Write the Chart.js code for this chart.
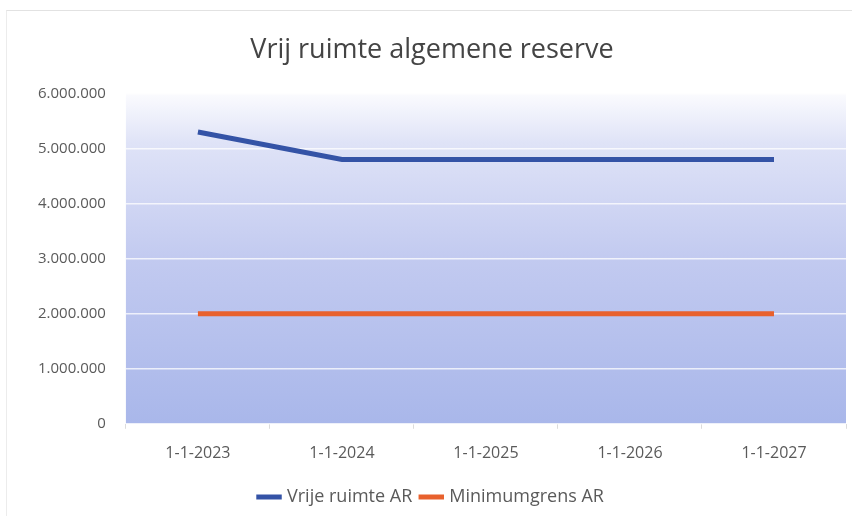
<!DOCTYPE html>
<html lang="nl">
<head>
<meta charset="UTF-8">
<title>Vrij ruimte algemene reserve</title>
<script src="https://cdn.jsdelivr.net/npm/chart.js"></script>
<style>
    html, body { margin: 0; padding: 0; background: #ffffff; }
    #wrap {
        position: absolute; left: 6px; top: 10px; width: 846px; height: 506px;
        border-top: 1px solid #e2e2e2; border-left: 1px solid #ececec;
        box-sizing: border-box;
    }
</style>
</head>
<body>
<div id="wrap"><canvas id="chart"></canvas></div>
<script>
    const categories = ['1-1-2023', '1-1-2024', '1-1-2025', '1-1-2026', '1-1-2027'];
    const vrijeRuimte = [5300000, 4800000, 4800000, 4800000, 4800000];
    const minimumgrens = [2000000, 2000000, 2000000, 2000000, 2000000];

    const fmt = v => v.toString().replace(/\B(?=(\d{3})+(?!\d))/g, '.');

    // gradient background of the plot area
    const plotBg = {
        id: 'plotBg',
        beforeDraw(chart) {
            const a = chart.chartArea;
            const ctx = chart.ctx;
            const g = ctx.createLinearGradient(0, a.top, 0, a.bottom);
            g.addColorStop(0, '#fbfbfe');
            g.addColorStop(0.15, '#dfe3f7');
            g.addColorStop(0.5, '#c2caf0');
            g.addColorStop(1, '#a9b7ea');
            ctx.save();
            ctx.fillStyle = g;
            ctx.fillRect(a.left, a.top, a.right - a.left, a.bottom - a.top);
            ctx.restore();
        }
    };

    new Chart(document.getElementById('chart'), {
        type: 'line',
        data: {
            labels: categories,
            datasets: [{
                label: 'Vrije ruimte AR',
                data: vrijeRuimte,
                borderColor: '#3453a6',
                backgroundColor: '#3453a6',
                borderWidth: 5,
                pointRadius: 0,
                tension: 0
            }, {
                label: 'Minimumgrens AR',
                data: minimumgrens,
                borderColor: '#e8612d',
                backgroundColor: '#e8612d',
                borderWidth: 5,
                pointRadius: 0,
                tension: 0
            }]
        },
        options: {
            responsive: true,
            maintainAspectRatio: false,
            animation: false,
            layout: { padding: { left: 11, right: 6, top: 4, bottom: 0 } },
            plugins: {
                title: {
                    display: true,
                    text: 'Vrij ruimte algemene reserve',
                    color: '#444444',
                    font: { family: 'Open Sans', size: 27, weight: 'normal' },
                    padding: { top: 19, bottom: 27 }
                },
                legend: {
                    position: 'bottom',
                    labels: {
                        usePointStyle: true,
                        pointStyle: 'line',
                        boxWidth: 48,
                        color: '#5a5a5a',
                        font: { family: 'Open Sans', size: 18 },
                        padding: 10
                    }
                },
                tooltip: { enabled: false }
            },
            scales: {
                x: {
                    offset: true,
                    grid: { offset: true, drawOnChartArea: false, tickLength: 5, color: '#dcdcdc' },
                    border: { display: false },
                    ticks: {
                        color: '#5a5a5a',
                        font: { family: 'Open Sans', size: 16 },
                        padding: 15
                    }
                },
                y: {
                    min: 0,
                    max: 6000000,
                    grid: { color: 'rgba(255,255,255,0.75)', drawTicks: false, lineWidth: 1.5 },
                    border: { display: false },
                    ticks: {
                        stepSize: 1000000,
                        color: '#5a5a5a',
                        font: { family: 'Open Sans', size: 15 },
                        padding: 20,
                        callback: v => fmt(v)
                    }
                }
            }
        },
        plugins: [plotBg]
    });
</script>
</body>
</html>
